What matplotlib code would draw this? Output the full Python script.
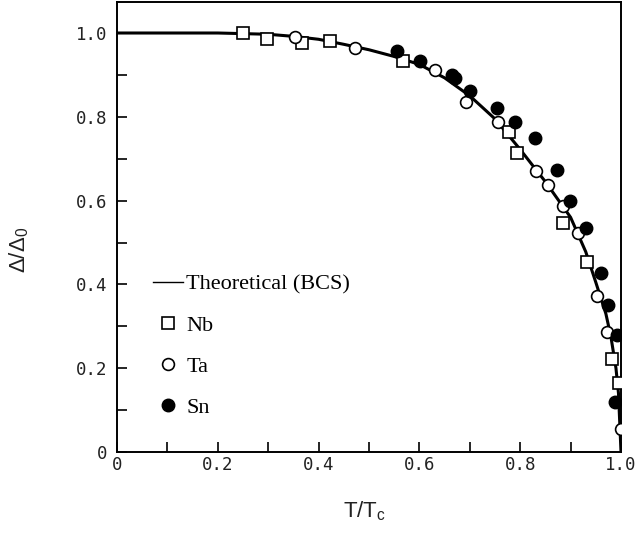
import numpy as np
import matplotlib
matplotlib.use("Agg")
import matplotlib.pyplot as plt
from matplotlib.lines import Line2D

# Krzywa teoretyczna BCS
bcs_t = [0.0, 0.1, 0.2, 0.3, 0.35, 0.4, 0.45, 0.5, 0.55, 0.6, 0.65, 0.7,
         0.75, 0.8, 0.85, 0.9, 0.93, 0.95, 0.97, 0.98, 0.99, 0.995, 1.0]
bcs_d = [1.0, 1.0, 1.0, 0.997, 0.992, 0.985, 0.973, 0.960, 0.944, 0.925, 0.893, 0.850,
         0.795, 0.722, 0.645, 0.560, 0.478, 0.405, 0.330, 0.275, 0.200, 0.140, 0.0]

# Nb (kwadraty)
nb_t = [0.25, 0.298, 0.367, 0.423, 0.567, 0.778, 0.794, 0.885, 0.933, 0.982, 0.996]
nb_d = [1.0, 0.986, 0.977, 0.981, 0.934, 0.764, 0.713, 0.546, 0.453, 0.222, 0.165]

# Ta (kółka)
ta_t = [0.354, 0.472, 0.631, 0.692, 0.756, 0.831, 0.855, 0.885, 0.915, 0.952, 0.972, 1.0]
ta_d = [0.990, 0.964, 0.912, 0.836, 0.788, 0.671, 0.638, 0.588, 0.523, 0.372, 0.287, 0.055]

# Sn (pełne kółka)
sn_t = [0.556, 0.601, 0.665, 0.671, 0.700, 0.754, 0.790, 0.829, 0.873, 0.899,
        0.931, 0.960, 0.975, 0.992, 0.988]
sn_d = [0.958, 0.934, 0.900, 0.893, 0.862, 0.821, 0.788, 0.749, 0.673, 0.600,
        0.535, 0.427, 0.350, 0.279, 0.119]

xticks = [0, 0.2, 0.4, 0.6, 0.8, 1.0]
xticklabels = ["0", "0.2", "0.4", "0.6", "0.8", "1.0"]
yticks = [0, 0.2, 0.4, 0.6, 0.8, 1.0]
yticklabels = ["0", "0.2", "0.4", "0.6", "0.8", "1.0"]

plt.rcParams['mathtext.fontset'] = 'custom'
plt.rcParams['mathtext.rm'] = 'Liberation Sans'
plt.rcParams['mathtext.it'] = 'Liberation Sans'

fig = plt.figure(figsize=(6.36, 5.36), dpi=100)
ax = fig.add_axes([117/636, 84/536, 504/636, 450/536])

ax.plot(bcs_t, bcs_d, color='black', lw=2.2, zorder=2)
ax.plot(nb_t, nb_d, 's', ms=8.5, mfc='white', mec='black', mew=1.2, zorder=3)
ax.plot(ta_t, ta_d, 'o', ms=8.5, mfc='white', mec='black', mew=1.2, zorder=3)
ax.plot(sn_t, sn_d, 'o', ms=9, mfc='black', mec='black', zorder=4)

ax.set_xlim(0, 1.0)
ax.set_ylim(0, 1.074)

ax.set_xticks(xticks)
ax.set_xticklabels(xticklabels)
ax.set_yticks(yticks)
ax.set_yticklabels(yticklabels)
ax.set_xticks(np.arange(0.1, 1.0, 0.2), minor=True)
ax.set_yticks(np.arange(0.1, 1.0, 0.2), minor=True)
ax.tick_params(which='both', direction='in', length=7, width=1.2, color='black')
ax.tick_params(axis='x', which='major', pad=3)
ax.tick_params(axis='y', which='major', pad=7)
for lab in ax.get_xticklabels() + ax.get_yticklabels():
    lab.set_fontfamily('DejaVu Sans Mono')
    lab.set_fontsize(12.5)
    lab.set_color('#222222')

for sp in ax.spines.values():
    sp.set_linewidth(1.4)
    sp.set_color('black')

ax.set_xlabel(r'T/T$_\mathrm{c}$', fontsize=16, fontfamily='Liberation Sans',
              color='#222222')
ax.xaxis.set_label_coords(0.49, -0.105)
ax.set_ylabel(r'$\Delta/\Delta_0$', fontsize=16, fontfamily='Liberation Sans',
              color='#222222')
ax.yaxis.set_label_coords(-0.17, 0.45)

handles = [
    Line2D([], [], color='black', lw=1.0),
    Line2D([], [], ls='none', marker='s', ms=8.5, mfc='white', mec='black', mew=1.2),
    Line2D([], [], ls='none', marker='o', ms=8.5, mfc='white', mec='black', mew=1.2),
    Line2D([], [], ls='none', marker='o', ms=9, mfc='black', mec='black'),
]
labels = ["Theoretical (BCS)", "Nb", "Ta", "Sn"]
ax.legend(handles, labels, loc='upper left', bbox_to_anchor=(0.071, 0.395),
          frameon=False, borderpad=0, borderaxespad=0, handlelength=1.35,
          handletextpad=0.15, labelspacing=0.92,
          prop={'family': 'Liberation Serif', 'size': 16})

fig.savefig("out.png", dpi=100)
